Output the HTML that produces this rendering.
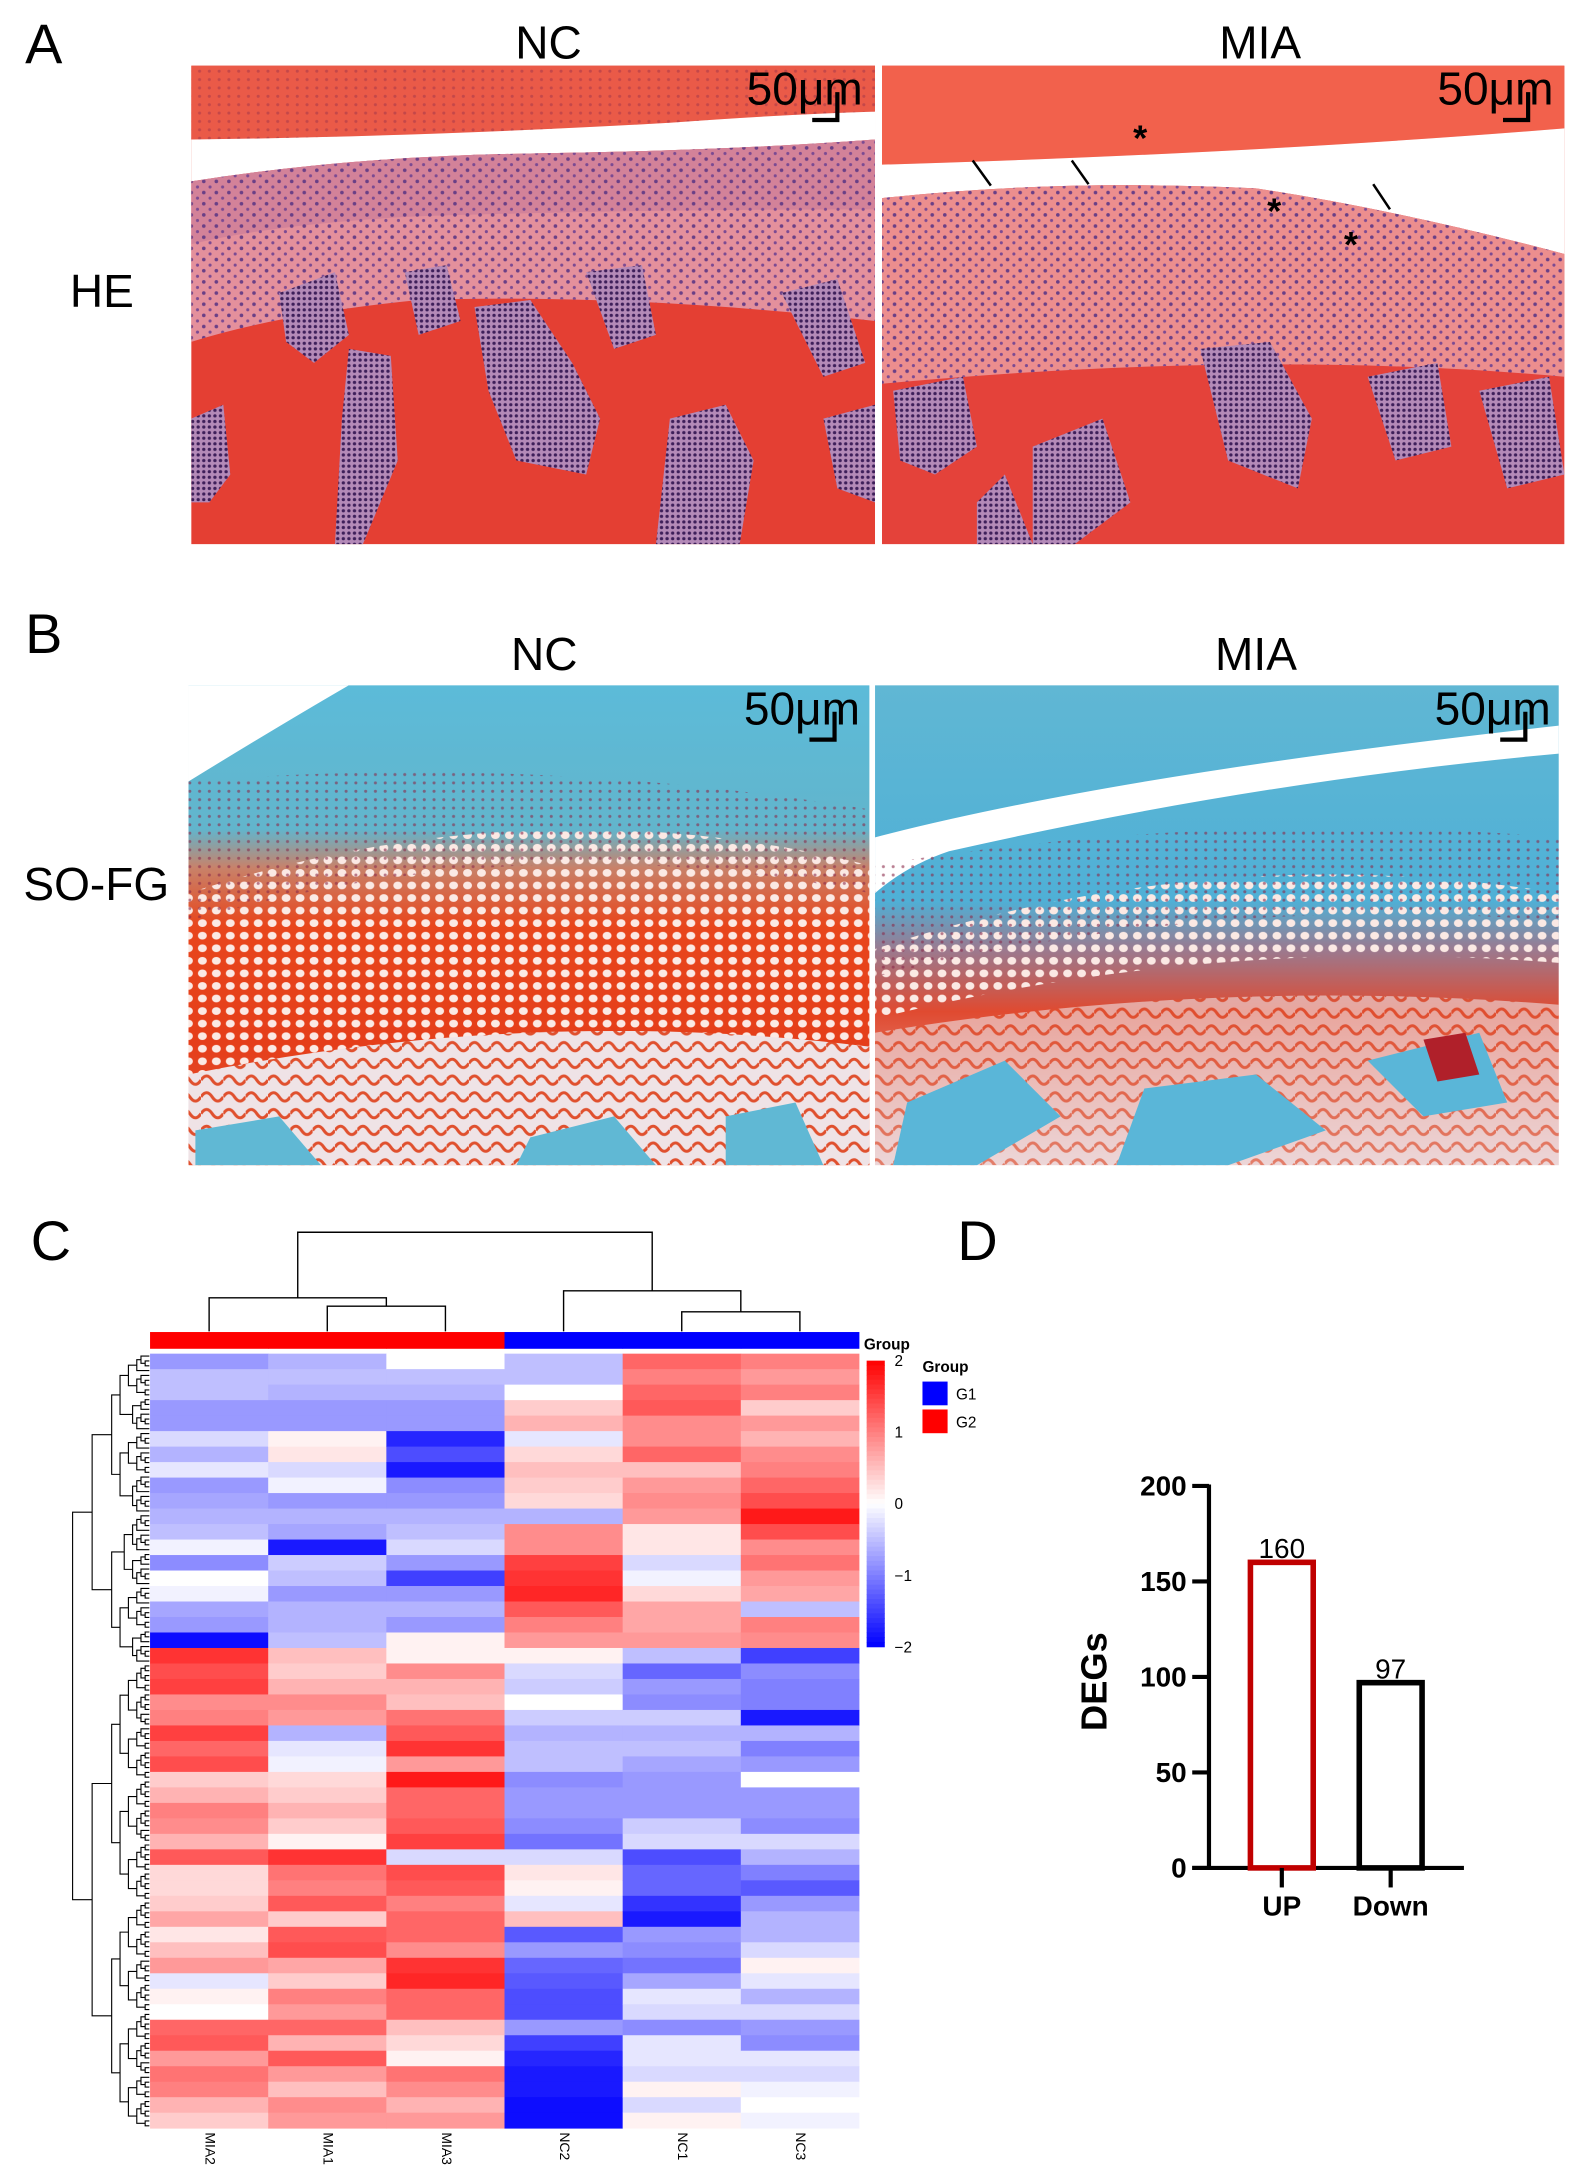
<!DOCTYPE html>
<html><head><meta charset="utf-8"><style>
html,body{margin:0;padding:0;background:#fff}
svg{display:block}
text{font-family:"Liberation Sans",Arial,sans-serif}
</style></head><body>
<svg id="fig" width="1577" height="2184" viewBox="0 0 1130 1565" xmlns="http://www.w3.org/2000/svg">
<defs>
<pattern id="nuclei" width="9" height="8" patternUnits="userSpaceOnUse">
<circle cx="2" cy="2" r="1.3" fill="#6a3f86"/><circle cx="6.5" cy="6" r="1.1" fill="#7b4a92"/>
</pattern>
<pattern id="cellsW" width="10" height="9" patternUnits="userSpaceOnUse">
<ellipse cx="5" cy="4.5" rx="3.2" ry="2.8" fill="#fbe9e4"/>
</pattern>
<pattern id="cellsS" width="7" height="6" patternUnits="userSpaceOnUse">
<circle cx="3" cy="3" r="1.1" fill="#8a2a4a"/>
</pattern>
<pattern id="marrow" width="4" height="4" patternUnits="userSpaceOnUse">
<rect width="4" height="4" fill="#b48ab8"/><circle cx="2" cy="2" r="1.2" fill="#3e1f5a"/>
</pattern>
<pattern id="trab" width="16" height="12" patternUnits="userSpaceOnUse">
<rect width="16" height="12" fill="#efe3e6"/><path d="M0,6 Q4,0 8,6 T16,6" stroke="#e0502e" stroke-width="2.2" fill="none"/>
</pattern>
<linearGradient id="sofgNC" x1="0" y1="0" x2="0" y2="1">
<stop offset="0" stop-color="#5cbbd9"/><stop offset="0.3" stop-color="#62b5cc"/><stop offset="0.38" stop-color="#c8826a"/><stop offset="0.5" stop-color="#e8461c"/><stop offset="0.75" stop-color="#e53e1a"/><stop offset="1" stop-color="#e25a3a"/>
</linearGradient>
<linearGradient id="sofgMIA" x1="0" y1="0" x2="0" y2="1">
<stop offset="0" stop-color="#60b7d4"/><stop offset="0.45" stop-color="#4fb0d6"/><stop offset="0.55" stop-color="#9a7a90"/><stop offset="0.68" stop-color="#e04a30"/><stop offset="1" stop-color="#e8c2c2"/>
</linearGradient>
<clipPath id="c1"><rect x="137" y="47" width="490" height="343"/></clipPath>
<clipPath id="c2"><rect x="632" y="47" width="489" height="343"/></clipPath>
<clipPath id="c3"><rect x="135" y="491" width="488" height="344"/></clipPath>
<clipPath id="c4"><rect x="627" y="491" width="490" height="344"/></clipPath>
</defs>

<text x="18" y="45" font-size="40">A</text>
<text x="18" y="468" font-size="40">B</text>
<text x="22" y="903" font-size="40">C</text>
<text x="686" y="903" font-size="40">D</text>

<text x="393" y="42" font-size="33" text-anchor="middle">NC</text>
<text x="903" y="42" font-size="33" text-anchor="middle">MIA</text>
<text x="73" y="220" font-size="33" text-anchor="middle">HE</text>
<text x="390" y="480" font-size="33" text-anchor="middle">NC</text>
<text x="900" y="480" font-size="33" text-anchor="middle">MIA</text>
<text x="69" y="645" font-size="33" text-anchor="middle">SO-FG</text>

<g clip-path="url(#c1)">
<rect x="137" y="47" width="490" height="343" fill="#e43f33"/>
<path d="M137,47 H627 V80 Q560,82 480,88 Q300,98 137,100 Z" fill="#ea5a48"/>
<path d="M137,100 Q300,98 480,88 Q560,82 627,80 V100 Q520,108 380,110 Q250,112 137,130 Z" fill="#ffffff"/>
<path d="M137,130 Q250,112 380,110 Q520,108 627,100 V230 Q450,210 300,215 Q200,225 137,245 Z" fill="#e4909c"/>
<path d="M137,130 Q250,112 380,110 Q520,108 627,100 V150 Q450,150 300,155 Q200,160 137,175 Z" fill="#c87a98" opacity="0.6"/>
<path d="M137,130 Q250,112 380,110 Q520,108 627,100 V230 Q450,210 300,215 Q200,225 137,245 Z" fill="url(#nuclei)"/>
<path d="M137,47 H627 V80 Q560,82 480,88 Q300,98 137,100 Z" fill="url(#cellsS)" opacity="0.4"/>
<path d="M200,210 L240,195 L250,240 L225,260 L205,245 Z" fill="url(#marrow)"/>
<path d="M290,195 L320,190 L330,230 L300,240 Z" fill="url(#marrow)"/>
<path d="M340,220 L380,215 L410,260 L430,300 L420,340 L370,330 L350,280 Z" fill="url(#marrow)"/>
<path d="M420,195 L460,190 L470,240 L440,250 Z" fill="url(#marrow)"/>
<path d="M250,250 L280,255 L285,330 L260,390 L240,390 L245,300 Z" fill="url(#marrow)"/>
<path d="M480,300 L520,290 L540,330 L530,390 L470,390 Z" fill="url(#marrow)"/>
<path d="M137,300 L160,290 L165,340 L150,360 L137,360 Z" fill="url(#marrow)"/>
<path d="M560,210 L600,200 L620,260 L590,270 Z" fill="url(#marrow)"/>
<path d="M590,300 L627,290 L627,360 L600,350 Z" fill="url(#marrow)"/>
</g>
<g clip-path="url(#c2)">
<rect x="632" y="47" width="489" height="343" fill="#e4423a"/>
<path d="M632,47 H1121 V92 Q900,110 632,118 Z" fill="#f2614c"/>
<path d="M632,118 Q900,110 1121,92 V182 Q1000,150 900,135 Q760,128 632,142 Z" fill="#ffffff"/>
<path d="M632,142 Q760,128 900,135 Q1000,150 1121,182 V270 Q900,250 632,275 Z" fill="#ec8e8e"/>
<path d="M632,142 Q760,128 900,135 Q1000,150 1121,182 V270 Q900,250 632,275 Z" fill="url(#nuclei)"/>
<path d="M640,280 L690,270 L700,320 L670,340 L645,330 Z" fill="url(#marrow)"/>
<path d="M740,320 L790,300 L810,360 L770,390 L740,390 Z" fill="url(#marrow)"/>
<path d="M860,250 L910,245 L940,300 L930,350 L880,330 Z" fill="url(#marrow)"/>
<path d="M980,270 L1030,260 L1040,320 L1000,330 Z" fill="url(#marrow)"/>
<path d="M1060,280 L1110,270 L1121,340 L1080,350 Z" fill="url(#marrow)"/>
<path d="M700,360 L720,340 L740,390 L700,390 Z" fill="url(#marrow)"/>
<text x="812" y="108" font-size="26" font-weight="bold">*</text>
<text x="908" y="160" font-size="26" font-weight="bold">*</text>
<text x="963" y="184" font-size="26" font-weight="bold">*</text>
<g stroke="#000" stroke-width="1.8" fill="#000">
<line x1="697" y1="115" x2="710" y2="133"/><line x1="768" y1="115" x2="780" y2="132"/><line x1="984" y1="132" x2="996" y2="150"/>
</g>
</g>
<g clip-path="url(#c3)">
<rect x="135" y="491" width="488" height="344" fill="url(#sofgNC)"/>
<path d="M135,491 H250 Q200,520 135,560 Z" fill="#ffffff"/>
<path d="M135,640 Q380,560 623,620 V760 Q380,730 135,780 Z" fill="url(#cellsW)"/>
<path d="M135,560 Q380,540 623,580 V640 Q380,590 135,660 Z" fill="url(#cellsS)" opacity="0.6"/>
<path d="M135,770 Q380,720 623,750 V835 H135 Z" fill="url(#trab)"/>
<path d="M140,810 L200,800 L230,835 L140,835 Z" fill="#60b8d4"/>
<path d="M380,815 L440,800 L470,835 L370,835 Z" fill="#60b8d4"/>
<path d="M520,800 L570,790 L590,835 L520,835 Z" fill="#60b8d4"/>
</g>
<g clip-path="url(#c4)">
<rect x="627" y="491" width="490" height="344" fill="url(#sofgMIA)"/>
<path d="M627,600 Q800,555 1117,520 V540 Q900,560 680,610 Q650,620 627,640 Z" fill="#ffffff"/>
<path d="M627,680 Q870,600 1117,640 V690 Q870,670 627,730 Z" fill="url(#cellsW)"/>
<path d="M627,620 Q870,580 1117,600 V660 Q870,640 627,700 Z" fill="url(#cellsS)" opacity="0.6"/>
<path d="M627,740 Q870,700 1117,720 V835 H627 Z" fill="url(#trab)" opacity="0.6"/>
<path d="M650,790 L720,760 L760,800 L700,835 L640,835 Z" fill="#5ab6d8"/>
<path d="M820,780 L900,770 L950,810 L880,835 L800,835 Z" fill="#5ab6d8"/>
<path d="M980,760 L1060,740 L1080,790 L1020,800 Z" fill="#5ab6d8"/>
<path d="M1020,745 L1050,740 L1060,770 L1030,775 Z" fill="#b0202a"/>
</g>

<g><text x="535" y="75" font-size="33">50μm</text><path d="M600,66 V86 H582" stroke="#000" stroke-width="3" fill="none"/></g>
<g><text x="1030" y="75" font-size="33">50μm</text><path d="M1095,66 V86 H1077" stroke="#000" stroke-width="3" fill="none"/></g>
<g><text x="533" y="519" font-size="33">50μm</text><path d="M598,510 V530 H580" stroke="#000" stroke-width="3" fill="none"/></g>
<g><text x="1028" y="519" font-size="33">50μm</text><path d="M1093,510 V530 H1075" stroke="#000" stroke-width="3" fill="none"/></g>

<g id="heat"></g>
<g id="bars"></g>
</svg>
<script>
const hmSamples = ["MIA2","MIA1","MIA3","NC2","NC1","NC3"];
const hmGroups = ["G2","G2","G2","G1","G1","G1"];
const hmMIA2 = [-0.8,-0.5,-0.5,-0.8,-0.8,-0.3,-0.6,-0.2,-0.8,-0.7,-0.6,-0.5,-0.1,-0.9,0,-0.1,-0.7,-0.8,-1.9,1.6,1.4,1.5,0.9,1.0,1.5,1.2,1.4,0.4,0.6,1.0,0.9,0.6,1.3,0.3,0.3,0.4,0.7,0.2,0.5,0.8,-0.2,0.1,0,1.2,1.3,0.8,1.1,1.0,0.6,0.4];
const hmMIA1 = [-0.6,-0.5,-0.6,-0.8,-0.8,0.1,0.2,-0.3,-0.1,-0.8,-0.6,-0.7,-1.8,-0.4,-0.5,-0.8,-0.6,-0.6,-0.5,0.5,0.4,0.6,0.9,0.8,-0.6,-0.2,-0.1,0.3,0.4,0.6,0.4,0.1,1.6,1.1,1.0,1.3,0.4,1.3,1.4,0.7,0.4,1.0,0.8,1.2,0.6,1.3,0.8,0.5,0.9,0.8];
const hmMIA3 = [0,-0.5,-0.6,-0.8,-0.8,-1.7,-1.4,-1.8,-0.9,-0.8,-0.6,-0.5,-0.3,-0.8,-1.5,-0.8,-0.6,-0.8,0.1,0.1,0.9,0.6,0.5,1.1,1.3,1.6,0.8,1.8,1.2,1.2,1.3,1.5,-0.3,1.4,1.3,1.0,1.2,1.2,0.9,1.6,1.7,1.2,1.2,0.5,0.3,0.1,1.1,0.9,0.6,0.8];
const hmNC2 = [-0.5,-0.5,0,0.4,0.6,-0.2,0.3,0.5,0.4,0.3,-0.6,0.9,0.9,1.5,1.6,1.7,1.3,1.0,0.8,0.1,-0.3,-0.4,0,-0.4,-0.6,-0.5,-0.5,-0.9,-0.8,-0.8,-0.9,-1.1,-0.3,0.2,0.1,-0.2,0.5,-1.3,-0.8,-1.2,-1.3,-1.4,-1.4,-0.8,-1.5,-1.7,-1.8,-1.8,-1.9,-1.9];
const hmNC1 = [1.2,1.0,1.2,1.3,0.9,0.9,1.2,0.5,0.8,0.9,0.8,0.2,0.2,-0.3,-0.1,0.3,0.7,0.7,0.8,-0.5,-1.2,-0.8,-0.9,-0.4,-0.6,-0.5,-0.7,-0.8,-0.8,-0.8,-0.4,-0.3,-1.4,-1.2,-1.2,-1.6,-1.8,-0.8,-0.9,-1.1,-0.7,-0.2,-0.3,-0.9,-0.2,-0.2,-0.3,0.1,-0.3,0.1];
const hmNC3 = [1.0,0.8,1.0,0.4,0.8,0.6,0.9,1.0,1.2,1.4,1.8,1.4,0.9,1.1,0.8,0.7,-0.5,1.0,0.9,-1.5,-0.9,-1.0,-1.0,-1.8,-0.6,-1.0,-0.8,0,-0.8,-0.8,-0.9,-0.3,-0.6,-1.0,-1.3,-0.8,-0.6,-0.6,-0.3,0.1,-0.2,-0.6,-0.3,-0.8,-0.9,-0.2,-0.3,-0.1,0,-0.1];
const hmColumns = [hmMIA2,hmMIA1,hmMIA3,hmNC2,hmNC1,hmNC3];
const legendTicks = [2,1,0,-1,-2];
const barCats = ["UP","Down"];
const barVals = [160,97];
const barColors = ["#c00000","#000000"];
const yTicks = [0,50,100,150,200];

const NS="http://www.w3.org/2000/svg";
function mk(tag, attrs, parent, txt){const e=document.createElementNS(NS,tag);for(const k in attrs)e.setAttribute(k,attrs[k]);if(txt!==undefined)e.textContent=txt;parent.appendChild(e);return e;}
function col(v){v=Math.max(-2,Math.min(2,v));const t=Math.abs(v)/2;const c=Math.round(255*(1-t));return v>=0?`rgb(255,${c},${c})`:`rgb(${c},${c},255)`;}

const hx0=107.5,hx1=615.5,hy0=970,hy1=1525;
const nR=hmMIA2.length, nC=hmSamples.length;
const cw=(hx1-hx0)/nC, rh=(hy1-hy0)/nR;
const xCol=i=>hx0+i*cw, yRow=r=>hy0+r*rh;
const heat=document.getElementById('heat');
for(let c=0;c<nC;c++){
  for(let r=0;r<nR;r++){
    const e=mk('rect',{x:xCol(c),y:yRow(r),width:cw+0.3,height:rh+0.3,fill:col(hmColumns[c][r])},heat);
    
    
  }
  const g=mk('rect',{x:xCol(c),y:954.5,width:cw+0.3,height:12,fill:hmGroups[c]==="G2"?"#ff0000":"#0000ff"},heat);
  
  
  const lx=xCol(c)+cw/2, ly=1528;
  const t=mk('text',{x:lx,y:ly,'font-size':10,transform:`rotate(90 ${lx} ${ly})`,'dominant-baseline':'middle'},heat,hmSamples[c]);
  
  
}
const cx=i=>xCol(i)+cw/2;
const dg=mk('g',{stroke:'#000','stroke-width':1,fill:'none'},heat);


function U(xa,ya,xb,yb,yj){mk('path',{d:`M${xa},${ya}V${yj}H${xb}V${yb}`},dg);}
U(cx(1),954,cx(2),954,936); const m12=(cx(1)+cx(2))/2;
U(cx(0),954,m12,936,930); const mA=(cx(0)+m12)/2;
U(cx(4),954,cx(5),954,940); const m45=(cx(4)+cx(5))/2;
U(cx(3),954,m45,940,925); const mB=(cx(3)+m45)/2;
U(mA,930,mB,925,883);
const rd=mk('g',{stroke:'#000','stroke-width':0.8,fill:'none'},heat);


const leaves=[];const nL=160;
for(let i=0;i<nL;i++)leaves.push(hy0+(i+0.5)*(hy1-hy0)/nL);
function tree(a,b,depth){
  if(b-a===1){return {y:leaves[a],x:107};}
  let m;
  if(depth===0) m=Math.round((b-a)*0.4)+a; else m=Math.floor((a+b)/2)+((depth%2)?1:0);
  if(m<=a)m=a+1; if(m>=b)m=b-1;
  const L=tree(a,m,depth+1),R=tree(m,b,depth+1);
  const x=Math.min(L.x,R.x)-(depth<2?14:(b-a>8?6:3));
  mk('path',{d:`M${L.x},${L.y}H${x}V${R.y}H${R.x}`},rd);
  return {y:(L.y+R.y)/2,x:x};
}
tree(0,nL,0);
const leg=mk('g',{},heat);


const ly0=975, ly1=1180;
const yLeg=v=>ly0+(2-v)/4*(ly1-ly0);
for(let i=0;i<60;i++){const v=2-4*i/60;mk('rect',{x:621,y:yLeg(v),width:13,height:(ly1-ly0)/60+0.4,fill:col(v-2/60)},leg);}
legendTicks.forEach(v=>{const t=mk('text',{x:641,y:yLeg(v)+4,'font-size':11},leg,v<0?'−'+Math.abs(v):String(v));});
mk('text',{x:619,y:967,'font-size':11,'font-weight':'bold'},leg,'Group');
const gl=mk('g',{},heat);


mk('text',{x:661,y:983,'font-size':11,'font-weight':'bold'},gl,'Group');
mk('rect',{x:661,y:990,width:18,height:17,fill:'#0000ff'},gl);
mk('rect',{x:661,y:1010,width:18,height:17,fill:'#ff0000'},gl);
mk('text',{x:685,y:1003,'font-size':11},gl,'G1');
mk('text',{x:685,y:1023,'font-size':11},gl,'G2');

const bars=document.getElementById('bars');
const ax=866.3, by0=1338.5, by200=1064.8;
const yB=v=>by0-(v/200)*(by0-by200);
const barW=49, barX=[894,972];
mk('line',{x1:ax,y1:yB(200)-1,x2:ax,y2:by0+1,stroke:'#000','stroke-width':3},bars);
mk('line',{x1:ax-12,y1:by0,x2:1049,y2:by0,stroke:'#000','stroke-width':3},bars);
yTicks.forEach(v=>{
  mk('line',{x1:ax-12,y1:yB(v),x2:ax,y2:yB(v),stroke:'#000','stroke-width':3},bars);
  const t=mk('text',{x:ax-16,y:yB(v)+7,'font-size':20,'font-weight':'bold','text-anchor':'end'},bars,String(v));
  
  
});
barCats.forEach((c,i)=>{
  const x=barX[i], top=yB(barVals[i]);
  const r=mk('rect',{x:x+2,y:top,width:barW-4,height:by0-top,fill:'#fff',stroke:barColors[i],'stroke-width':4},bars);
  
  
  const v=mk('text',{x:x+barW/2,y:top-3,'font-size':20,'text-anchor':'middle'},bars,String(barVals[i]));
  
  
  mk('line',{x1:x+barW/2,y1:by0,x2:x+barW/2,y2:by0+14,stroke:'#000','stroke-width':3},bars);
  const l=mk('text',{x:x+barW/2,y:by0+34,'font-size':20,'font-weight':'bold','text-anchor':'middle'},bars,c);
  
  
});
const yt=mk('text',{x:0,y:0,'font-size':26,'font-weight':'bold','text-anchor':'middle',transform:'translate(793,1205) rotate(-90)'},bars,'DEGs');


</script>
</body></html>
